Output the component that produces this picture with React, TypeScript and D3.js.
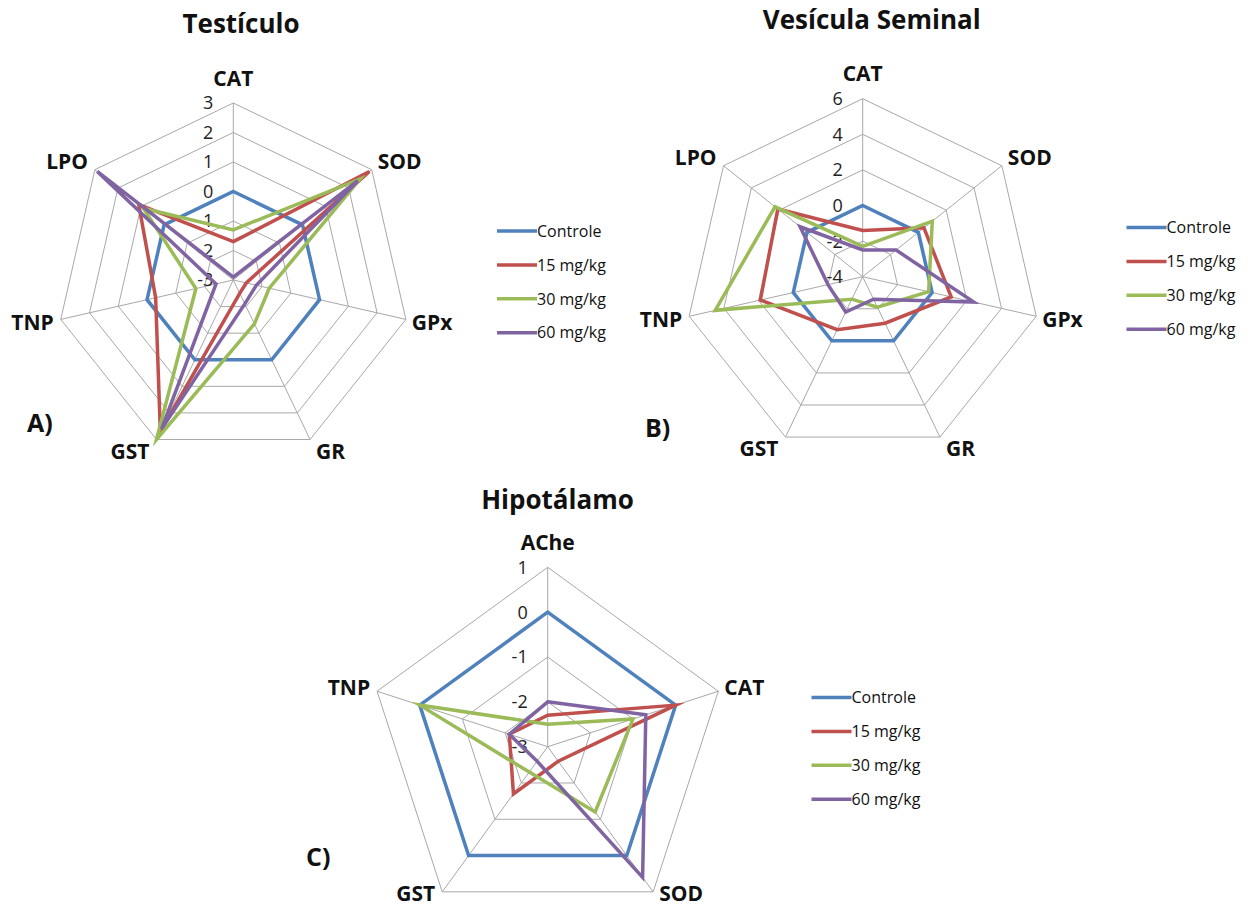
import React from "react";
import * as d3 from "d3";

// Series shared by all three panels
const seriesNames = ["Controle", "15 mg/kg", "30 mg/kg", "60 mg/kg"];
const seriesColors = ["#4F81BD", "#C0504D", "#9BBB59", "#8064A2"];

// Testículo
const testiculoAxes = ["CAT", "SOD", "GPx", "GR", "GST", "TNP", "LPO"];
const testiculoTicks = [-3, -2, -1, 0, 1, 2, 3];
const testiculoControle = [0, 0, 0, 0, 0, 0, 0];
const testiculo15 = [-1.7, 2.9, -2.55, -2.5, 2.7, -0.3, 1.1];
const testiculo30 = [-1.3, 2.5, -1.75, -1.35, 3.0, -1.7, 0.9];
const testiculo60 = [-2.9, 2.4, -2.2, -2.1, 2.6, -2.4, 2.9];

// Vesícula Seminal
const vesiculaAxes = ["CAT", "SOD", "GPx", "GR", "GST", "TNP", "LPO"];
const vesiculaTicks = [-4, -2, 0, 2, 4, 6];
const vesiculaControle = [0, 0, 0, 0, 0, 0, 0];
const vesicula15 = [-1.4, 0.4, 1.1, -1.1, -0.7, 1.9, 2.1];
const vesicula30 = [-2.3, 1.0, -0.2, -2.1, -2.6, 4.5, 2.3];
const vesicula60 = [-2.5, -1.6, 2.4, -2.6, -1.8, -2.0, 0.5];

// Hipotálamo
const hipotalamoAxes = ["AChe", "CAT", "SOD", "GST", "TNP"];
const hipotalamoTicks = [-3, -2, -1, 0, 1];
const hipotalamoControle = [0, 0, 0, 0, 0];
const hipotalamo15 = [-2.3, 0.0, -2.6, -1.7, -2.1];
const hipotalamo30 = [-2.5, -1.0, -1.2, -2.3, 0.0];
const hipotalamo60 = [-2.0, -0.7, 0.6, -2.6, -2.1];

const FONT = "'Open Sans', 'DejaVu Sans', sans-serif";
const GRID = "#A8A8A8";
const MAX_BASELINE = 901;

type PanelProps = {
  cx: number;
  cy: number;
  radius: number;
  axes: string[];
  ticks: number[];
  series: number[][];
  title: string;
  titleX: number;
  titleY: number;
  legendX: number;
  legendY: number;
  letter: string;
  letterX: number;
  letterY: number;
};

function RadarPanel(p: PanelProps) {
  const n = p.axes.length;
  const r = d3
    .scaleLinear()
    .domain([d3.min(p.ticks)!, d3.max(p.ticks)!])
    .range([0, p.radius]);
  const angle = (i: number) => (i * 2 * Math.PI) / n;

  const ring = (v: number) =>
    d3
      .lineRadial<number>()
      .angle((_, i) => angle(i))
      .radius(() => r(v))
      .curve(d3.curveLinearClosed)(d3.range(n));

  const seriesPath = d3
    .lineRadial<number>()
    .angle((_, i) => angle(i))
    .radius((d) => r(d))
    .curve(d3.curveLinearClosed);

  const labelSize = 21;
  const tickSize = 18;

  return (
    <g>
      <text
        x={p.titleX}
        y={p.titleY}
        textAnchor="middle"
        fontFamily={FONT}
        fontWeight={700}
        fontSize={26}
        fill="#111"
      >
        {p.title}
      </text>

      <g transform={`translate(${p.cx},${p.cy})`}>
        {/* rings */}
        {p.ticks.slice(1).map((t) => (
          <path key={t} d={ring(t) || ""} fill="none" stroke={GRID} strokeWidth={1} />
        ))}
        {/* spokes */}
        {p.axes.map((a, i) => {
          const th = angle(i);
          return (
            <line
              key={a}
              x1={0}
              y1={0}
              x2={Math.sin(th) * p.radius}
              y2={-Math.cos(th) * p.radius}
              stroke={GRID}
              strokeWidth={1}
            />
          );
        })}
        {/* tick labels */}
        {p.ticks.map((t) => (
          <text
            key={t}
            x={-20}
            y={-r(t) + tickSize * 0.357}
            textAnchor="end"
            fontFamily={FONT}
            fontSize={tickSize}
            fill="#222"
          >
            {String(t)}
          </text>
        ))}
        {/* series */}
        {p.series.map((s, k) => (
          <path
            key={k}
            d={seriesPath(s) || ""}
            fill="none"
            stroke={seriesColors[k]}
            strokeWidth={3.5}
            strokeLinejoin="miter"
            strokeMiterlimit={6}
          />
        ))}
        {/* axis labels */}
        {p.axes.map((a, i) => {
          const th = angle(i);
          const ux = Math.sin(th);
          const uy = -Math.cos(th);
          const vx = ux * p.radius;
          const vy = uy * p.radius;
          let x = vx;
          let cyLabel = vy + uy * 13;
          let anchor: "start" | "middle" | "end" = "middle";
          if (Math.abs(ux) < 0.1) {
            cyLabel = vy - 25;
          } else if (ux > 0) {
            anchor = "start";
            x = vx + 6;
          } else {
            anchor = "end";
            x = vx - 7;
          }
          const baseline = Math.min(cyLabel + labelSize * 0.357, MAX_BASELINE - p.cy);
          return (
            <text
              key={a}
              x={x}
              y={baseline}
              textAnchor={anchor}
              fontFamily={FONT}
              fontWeight={700}
              fontSize={labelSize}
              fill="#111"
            >
              {a}
            </text>
          );
        })}
      </g>

      {/* legend */}
      {seriesNames.map((name, k) => {
        const y = p.legendY + k * 33.9;
        return (
          <g key={name}>
            <line
              x1={p.legendX}
              x2={p.legendX + 40}
              y1={y}
              y2={y}
              stroke={seriesColors[k]}
              strokeWidth={3.5}
            />
            <text
              x={p.legendX + 40}
              y={y + 5.7}
              fontFamily={FONT}
              fontSize={16}
              fill="#111"
            >
              {name}
            </text>
          </g>
        );
      })}

      <text
        x={p.letterX}
        y={p.letterY}
        fontFamily={FONT}
        fontWeight={700}
        fontSize={25}
        fill="#111"
      >
        {p.letter}
      </text>
    </g>
  );
}

export default function App() {
  return (
    <svg
      width={1257}
      height={909}
      style={{ position: "absolute", left: 0, top: 0, display: "block", background: "#fff" }}
    >
      <rect width={1257} height={909} fill="#fff" />
      <RadarPanel
        cx={233.3}
        cy={280}
        radius={177}
        axes={testiculoAxes}
        ticks={testiculoTicks}
        series={[testiculoControle, testiculo15, testiculo30, testiculo60]}
        title="Testículo"
        titleX={241}
        titleY={33}
        legendX={497}
        legendY={231}
        letter="A)"
        letterX={27}
        letterY={432}
      />
      <RadarPanel
        cx={862.7}
        cy={276.7}
        radius={178}
        axes={vesiculaAxes}
        ticks={vesiculaTicks}
        series={[vesiculaControle, vesicula15, vesicula30, vesicula60]}
        title="Vesícula Seminal"
        titleX={871.7}
        titleY={28.5}
        legendX={1126.5}
        legendY={227.5}
        letter="B)"
        letterX={645}
        letterY={437}
      />
      <RadarPanel
        cx={547.7}
        cy={746.7}
        radius={179.4}
        axes={hipotalamoAxes}
        ticks={hipotalamoTicks}
        series={[hipotalamoControle, hipotalamo15, hipotalamo30, hipotalamo60]}
        title="Hipotálamo"
        titleX={557.5}
        titleY={508.5}
        legendX={811.5}
        legendY={697.5}
        letter="C)"
        letterX={306}
        letterY={866}
      />
    </svg>
  );
}
